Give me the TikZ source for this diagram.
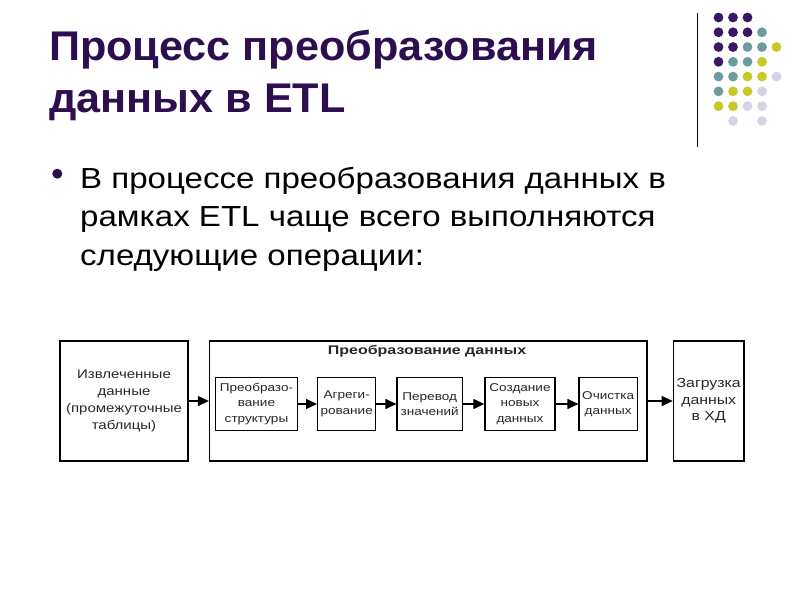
\documentclass[tikz,border=0pt]{standalone}
\usepackage{fontspec}
\setmainfont{Liberation Sans}
\newfontfamily\diagfont[FakeStretch=1.2]{Liberation Sans}
\newfontfamily\headfont[FakeStretch=1.28]{Liberation Sans}
\newfontfamily\bodyfont[FakeStretch=1.14]{Liberation Sans}
\newfontfamily\titlefont[FakeStretch=1.04]{Liberation Sans}
\usetikzlibrary{arrows.meta}
\definecolor{titlecol}{RGB}{45,15,80}
\definecolor{dotP}{RGB}{58,22,100}
\definecolor{dotT}{RGB}{110,155,155}
\definecolor{dotY}{RGB}{200,200,40}
\definecolor{dotL}{RGB}{212,213,228}
\definecolor{darktext}{RGB}{40,40,40}
\tikzset{
  box/.style={draw=black, line width=1.3pt, inner sep=0pt, align=center,
    text=darktext, font=\diagfont\fontsize{12.5}{17.3}\selectfont},
  inbox/.style={box, minimum height=53pt, font=\diagfont\fontsize{11.3}{15.5}\selectfont},
  arr/.style={draw=black, line width=1.2pt, -{Triangle[length=11pt,width=10pt]}},
  titletext/.style={anchor=base west, inner sep=0pt, text=titlecol,
    font=\titlefont\bfseries\fontsize{41.5}{52}\selectfont},
  bodytext/.style={anchor=base west, inner sep=0pt, text=black,
    font=\bodyfont\fontsize{29}{38}\selectfont}
}
\begin{document}
\begin{tikzpicture}[x=1pt,y=-1pt]
\useasboundingbox[fill=white] (0,0) rectangle (800,600);

% title
\node[titletext] (title1) at (49,60) {Процесс преобразования};
\node[titletext] (title2) at (49,112.7) {данных в ETL};

% decoration
\draw[line width=0.9pt, black] (697,13) -- (697,147);
\foreach \i/\j/\col in {0/0/dotP,1/0/dotP,2/0/dotP,
  0/1/dotP,1/1/dotP,2/1/dotP,3/1/dotT,
  0/2/dotP,1/2/dotP,2/2/dotT,3/2/dotT,4/2/dotY,
  0/3/dotP,1/3/dotT,2/3/dotT,3/3/dotY,
  0/4/dotT,1/4/dotT,2/4/dotY,3/4/dotY,4/4/dotL,
  0/5/dotT,1/5/dotY,2/5/dotY,3/5/dotL,
  0/6/dotY,1/6/dotY,2/6/dotL,3/6/dotL,
  1/7/dotL,3/7/dotL}
  \fill[\col] ({718.5+14.5*\i},{17.5+14.77*\j}) circle (4.9pt);

% bullet text
\fill[titlecol] (57.3,173.7) circle (5pt);
\node[bodytext] (body1) at (80,188.3) {В процессе преобразования данных в};
\node[bodytext] (body2) at (80,226.7) {рамках ETL чаще всего выполняются};
\node[bodytext] (body3) at (80,265) {следующие операции:};

% diagram
\node[box, minimum width=128pt, minimum height=120pt] (extr) at (124,401)
  {Извлеченные\\данные\\(промежуточные\\таблицы)};
\node[box, minimum width=437.5pt, minimum height=120pt] (transf) at (428.25,401) {};
\node[inner sep=0pt, text=darktext, font=\headfont\bfseries\fontsize{12.5}{14}\selectfont]
  (transftitle) at (427,351.7) {Преобразование данных};
\node[inbox, minimum width=81.6pt] (s1) at (256.5,404) {Преобразо-\\вание\\структуры};
\node[inbox, minimum width=58pt] (s2) at (346.7,404) {Агреги-\\рование};
\node[inbox, minimum width=65.3pt] (s3) at (429.7,404) {Перевод\\значений};
\node[inbox, minimum width=70pt] (s4) at (520,404) {Создание\\новых\\данных};
\node[inbox, minimum width=58.3pt] (s5) at (608.2,404) {Очистка\\данных};
\node[box, minimum width=70.7pt, minimum height=120pt,
  font=\diagfont\fontsize{13.2}{16.7}\selectfont] (load) at (708.7,401)
  {Загрузка\\данных\\в ХД};

\draw[arr] (extr.east) -- (transf.west);
\draw[arr] (s1) -- (s2);
\draw[arr] (s2) -- (s3);
\draw[arr] (s3) -- (s4);
\draw[arr] (s4) -- (s5);
\draw[arr] (transf.east) -- (load.west);
\end{tikzpicture}
\end{document}
